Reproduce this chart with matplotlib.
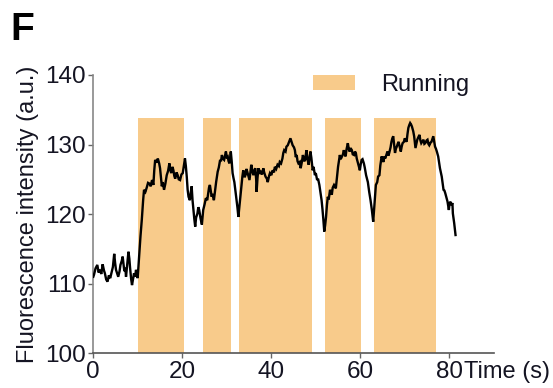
import matplotlib
matplotlib.use("Agg")
import matplotlib.pyplot as plt
from matplotlib.patches import Patch

plt.rcParams['font.family'] = ['Liberation Sans', 'DejaVu Sans']

# Fluorescence trace: (time in s, intensity in a.u.)
trace = [
    (0.0, 111.0), (0.16, 111.3), (0.5, 112.2), (0.9, 112.7), (1.2, 111.6),
    (1.5, 112.0), (1.8, 111.4), (2.1, 112.8), (2.4, 111.9), (2.6, 111.5),
    (2.9, 110.6), (3.2, 110.3), (3.5, 111.2), (3.8, 110.8), (4.1, 111.6),
    (4.4, 112.4), (4.7, 114.3), (4.9, 113.0), (5.1, 112.0), (5.4, 111.4),
    (5.6, 111.0), (5.9, 111.8), (6.1, 112.7), (6.4, 113.3), (6.6, 113.9),
    (6.97, 111.8), (7.2, 112.3), (7.35, 111.0), (7.6, 112.6), (7.9, 114.6),
    (8.1, 113.6), (8.25, 112.4), (8.5, 110.7), (8.7, 109.8), (8.9, 110.6),
    (9.15, 111.5), (9.4, 111.0), (9.6, 112.0), (9.8, 111.4), (9.97, 110.8),
    (10.3, 113.9), (10.6, 116.8), (10.9, 119.2), (11.2, 122.0), (11.4, 123.5),
    (11.7, 123.2), (12.0, 123.8), (12.3, 124.5), (12.6, 124.4), (12.9, 124.0),
    (13.2, 124.9), (13.5, 124.2), (13.7, 126.3), (13.9, 127.8), (14.2, 127.4),
    (14.5, 128.0), (14.8, 127.3), (15.0, 126.6), (15.2, 125.3), (15.4, 124.0),
    (15.6, 124.6), (15.9, 123.5), (16.2, 124.4), (16.5, 125.6), (16.8, 126.2),
    (17.1, 127.3), (17.3, 126.4), (17.5, 125.9), (17.8, 126.8), (18.0, 126.3),
    (18.2, 125.5), (18.4, 125.1), (18.7, 126.0), (18.96, 125.6), (19.2, 125.0),
    (19.5, 124.9), (19.8, 125.7), (20.1, 125.9), (20.4, 127.1), (20.6, 128.0),
    (20.8, 126.9), (21.0, 125.4), (21.2, 123.5), (21.4, 122.5), (21.7, 122.0),
    (21.9, 123.1), (22.1, 124.0), (22.3, 122.0), (22.5, 120.6), (22.7, 119.3),
    (22.9, 118.2), (23.1, 119.5), (23.4, 120.1), (23.6, 121.0), (23.8, 120.6),
    (24.1, 119.4), (24.4, 118.5), (24.7, 120.6), (25.0, 121.4), (25.3, 122.3),
    (25.6, 122.0), (25.85, 123.2), (26.0, 123.8), (26.2, 124.2), (26.4, 123.4),
    (26.6, 122.5), (26.8, 122.9), (27.1, 122.0), (27.3, 123.0), (27.6, 124.6),
    (27.95, 126.1), (28.2, 126.7), (28.5, 127.8), (28.7, 127.6), (28.9, 128.5),
    (29.1, 128.0), (29.4, 127.8), (29.6, 128.4), (29.8, 129.0), (30.0, 128.2),
    (30.2, 128.3), (30.4, 127.6), (30.6, 127.3), (30.9, 129.0), (31.1, 127.6),
    (31.3, 125.9), (31.5, 125.2), (31.7, 124.6), (31.9, 123.6), (32.1, 122.5),
    (32.4, 120.9), (32.6, 119.6), (32.8, 120.9), (33.0, 122.3), (33.3, 124.2),
    (33.5, 125.4), (33.7, 126.3), (34.0, 125.3), (34.2, 125.6), (34.4, 126.5),
    (34.6, 126.1), (34.9, 125.4), (35.1, 124.9), (35.3, 126.0), (35.5, 127.1),
    (35.8, 126.0), (36.0, 125.6), (36.2, 126.3), (36.4, 126.6), (36.6, 125.0),
    (36.7, 123.2), (36.9, 125.2), (37.1, 126.6), (37.3, 125.8), (37.6, 126.1),
    (37.9, 125.7), (38.2, 126.6), (38.4, 126.0), (38.7, 125.4), (39.0, 125.1),
    (39.2, 124.6), (39.5, 125.5), (39.7, 125.9), (40.0, 125.6), (40.3, 126.3),
    (40.6, 126.0), (40.8, 126.8), (41.1, 126.5), (41.4, 127.1), (41.7, 126.9),
    (41.9, 127.5), (42.2, 127.3), (42.5, 128.0), (42.7, 128.8), (42.9, 129.2),
    (43.2, 129.0), (43.4, 129.7), (43.7, 129.9), (44.0, 130.4), (44.3, 130.9),
    (44.6, 130.3), (44.8, 129.9), (45.1, 129.6), (45.3, 129.2), (45.5, 128.2),
    (45.7, 128.5), (45.9, 127.6), (46.1, 127.3), (46.4, 127.5), (46.6, 126.6),
    (46.9, 127.6), (47.1, 128.5), (47.4, 127.6), (47.6, 127.8), (47.9, 129.2),
    (48.1, 128.0), (48.4, 127.1), (48.6, 128.2), (48.8, 129.0), (49.0, 128.1),
    (49.3, 126.3), (49.5, 126.8), (49.8, 125.6), (50.0, 125.9), (50.3, 124.9),
    (50.5, 125.1), (50.8, 124.2), (51.0, 123.3), (51.3, 122.0), (51.5, 120.7),
    (51.7, 119.2), (51.9, 117.5), (52.1, 118.4), (52.3, 119.6), (52.5, 121.3),
    (52.7, 122.5), (52.9, 122.1), (53.2, 123.5), (53.4, 123.1), (53.6, 122.8),
    (53.8, 123.8), (54.1, 124.2), (54.3, 124.0), (54.5, 123.7), (54.8, 125.6),
    (55.0, 126.8), (55.2, 127.6), (55.4, 128.5), (55.6, 127.9), (55.9, 128.3),
    (56.1, 128.6), (56.3, 129.2), (56.5, 128.6), (56.7, 128.3), (56.9, 129.3),
    (57.2, 130.2), (57.4, 129.4), (57.6, 129.0), (57.8, 129.5), (58.1, 129.2),
    (58.3, 128.6), (58.6, 128.5), (58.8, 129.0), (59.0, 128.8), (59.2, 128.0),
    (59.5, 127.3), (59.7, 126.8), (59.9, 126.3), (60.1, 127.2), (60.3, 127.8),
    (60.5, 127.9), (60.8, 127.3), (61.0, 126.7), (61.3, 125.6), (61.5, 125.1),
    (61.7, 124.6), (62.0, 123.2), (62.3, 122.0), (62.6, 120.6), (62.9, 118.9),
    (63.2, 121.5), (63.5, 124.2), (63.8, 124.6), (64.0, 125.4), (64.3, 125.6),
    (64.5, 127.0), (64.8, 128.3), (65.0, 127.8), (65.2, 127.5), (65.4, 128.3),
    (65.6, 128.0), (65.9, 128.6), (66.1, 129.0), (66.3, 128.4), (66.5, 128.8),
    (66.8, 129.6), (67.0, 130.4), (67.2, 130.9), (67.4, 131.2), (67.6, 130.0),
    (67.8, 128.8), (68.0, 129.4), (68.2, 129.7), (68.4, 130.1), (68.6, 130.4),
    (68.9, 129.6), (69.1, 129.0), (69.3, 129.7), (69.5, 130.2), (69.8, 130.4),
    (70.0, 130.9), (70.2, 130.6), (70.4, 130.4), (70.6, 131.5), (70.8, 132.4),
    (71.0, 132.8), (71.2, 133.1), (71.4, 132.9), (71.6, 132.6), (71.9, 131.9),
    (72.1, 131.2), (72.3, 130.1), (72.4, 129.5), (72.6, 130.1), (72.8, 130.7),
    (73.0, 131.0), (73.3, 131.4), (73.5, 130.6), (73.7, 130.2), (74.0, 130.5),
    (74.2, 130.7), (74.4, 130.1), (74.6, 130.2), (74.9, 130.6), (75.1, 130.7),
    (75.3, 130.1), (75.5, 129.9), (75.8, 130.3), (76.0, 130.4), (76.2, 130.8),
    (76.4, 131.2), (76.6, 130.4), (76.8, 129.7), (77.0, 129.4), (77.2, 129.0),
    (77.5, 128.3), (77.7, 127.4), (77.9, 126.6), (78.1, 126.0), (78.3, 125.4),
    (78.5, 124.4), (78.7, 123.5), (78.9, 123.4), (79.1, 123.0), (79.4, 122.3),
    (79.6, 121.8), (79.9, 120.6), (80.0, 121.2), (80.2, 121.8), (80.4, 121.5),
    (80.5, 121.3), (80.7, 121.6), (80.8, 120.1), (81.1, 118.7), (81.4, 117.0),
]
time_s = [t for t, _ in trace]
intensity = [v for _, v in trace]

# Running bouts (start, end) in s
run_start = [10.1, 24.6, 32.7, 52.1, 63.1]
run_end = [20.4, 30.9, 49.2, 60.2, 77.0]
run_top = 133.8

x_ticks = [0, 20, 40, 60, 80]
y_ticks = [100, 110, 120, 130, 140]

run_color = '#F8CB8B'
text_color = '#141422'

fig = plt.figure(figsize=(5.53, 3.88), dpi=100)
ax = fig.add_axes([93.3 / 553, 1 - 353.3 / 388, 400.5 / 553, 278.3 / 388])

for s, e in zip(run_start, run_end):
    ax.bar(s, run_top - 100, width=e - s, bottom=100, align='edge',
           color=run_color, edgecolor='none', zorder=1)

ax.plot(time_s, intensity, color='black', lw=1.7, zorder=3,
        solid_joinstyle='miter')

ax.set_xlim(0, 90)
ax.set_ylim(100, 140)
ax.set_xticks(x_ticks)
ax.set_yticks(y_ticks)
ax.tick_params(labelsize=17.5, labelcolor=text_color, length=3.5, width=1,
               color='#666666', pad=2)

for side in ('top', 'right'):
    ax.spines[side].set_visible(False)
ax.spines['left'].set_color('#888888')
ax.spines['bottom'].set_color('#555555')
ax.spines['left'].set_linewidth(1.2)
ax.spines['bottom'].set_linewidth(1.2)

ax.set_ylabel('Fluorescence intensity (a.u.)', fontsize=17, color=text_color,
              labelpad=4)
fig.text(464 / 553, 1 - 361 / 388, 'Time (s)', fontsize=17, color=text_color,
         ha='left', va='top')

fig.text(10 / 553, 1 - 12 / 388, 'F', fontsize=28, fontweight='bold',
         color='black', ha='left', va='top')

ax.legend(handles=[Patch(facecolor=run_color, edgecolor='none', label='Running')],
          loc='center left', bbox_to_anchor=(312.7 / 553, 1 - 85 / 388),
          bbox_transform=fig.transFigure, frameon=False, fontsize=17,
          handlelength=1.8, handleheight=0.6, handletextpad=1.1,
          borderpad=0, borderaxespad=0, labelcolor=text_color)

fig.savefig('out.png', dpi=100)
